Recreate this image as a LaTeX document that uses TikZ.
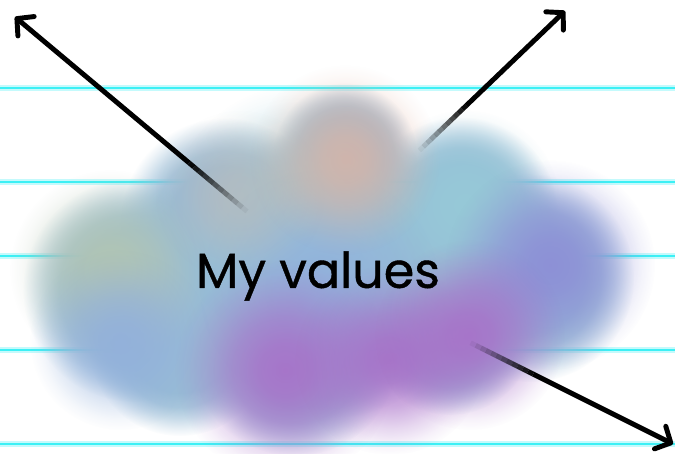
\documentclass[tikz,border=0pt]{standalone}
\usepackage{fontspec}
\setmainfont{Poppins}
\newfontfamily\valfont{Poppins}[FakeBold=0.8]
\usetikzlibrary{arrows.meta,calc,fadings}

% 云团的柔边（中心不透明，向外渐隐；25bp 对应圆周）
\pgfdeclareradialshading{blobshade}{\pgfpointorigin}{%
  color(0bp)=(pgftransparent!0); color(13bp)=(pgftransparent!0);
  color(17bp)=(pgftransparent!15); color(20bp)=(pgftransparent!45);
  color(23bp)=(pgftransparent!80); color(25bp)=(pgftransparent!100);
  color(50bp)=(pgftransparent!100)}
\pgfdeclarefading{softblob}{\pgfuseshading{blobshade}}
% 着色用的宽渐隐
\pgfdeclareradialshading{tintshade}{\pgfpointorigin}{%
  color(0bp)=(pgftransparent!0); color(6bp)=(pgftransparent!10);
  color(12bp)=(pgftransparent!35); color(18bp)=(pgftransparent!70);
  color(22bp)=(pgftransparent!90); color(25bp)=(pgftransparent!100);
  color(50bp)=(pgftransparent!100)}
\pgfdeclarefading{softtint}{\pgfuseshading{tintshade}}

\definecolor{rulecyan}{RGB}{60,240,245}
\definecolor{cloudbase}{RGB}{152,188,214}
\definecolor{peach}{RGB}{226,176,158}
\definecolor{teal}{RGB}{150,202,216}
\definecolor{sage}{RGB}{180,198,176}
\definecolor{skyblue}{RGB}{146,176,220}
\definecolor{lilac}{RGB}{140,140,214}
\definecolor{violet}{RGB}{168,110,200}

\tikzset{
  rule/.style={line width=1.8pt,draw=rulecyan},
  ruleglow/.style={line width=4pt,draw=rulecyan!30},
  blob/.style={fill=cloudbase,path fading=softblob},
  tint/.style={fill=#1,fill opacity=0.9,path fading=softtint},
  arrowline/.style={line width=3.5pt,draw=black},
  barb/.style={-{Straight Barb[length=8.5pt,width=18pt,round]}}
}

\begin{document}
\begin{tikzpicture}[x=0.025cm,y=-0.025cm]
\fill[white] (0,0) rectangle (675,453);
\useasboundingbox (0,0) rectangle (675,453);
% 横线
\foreach \ry in {88,182,256,350,444}{
  \draw[ruleglow] (0,\ry) -- (675,\ry);
  \draw[rule] (0,\ry) -- (675,\ry);
}
% 云团轮廓
\foreach \cx/\cy/\r in {330/272/146,135/290/112,180/345/91,225/222/104,
  460/215/98,530/278/104,295/352/104,450/330/85,345/155/72}{
  \fill[blob] (\cx,\cy) circle (\r);
}
% 云团着色
\fill[tint=teal] (300,215) circle (130);
\fill[tint=teal] (465,205) circle (95);
\fill[tint=sage] (110,270) circle (100);
\fill[tint=skyblue] (120,340) circle (90);
\fill[tint=skyblue] (320,290) circle (120);
\fill[tint=lilac] (550,265) circle (105);
\fill[tint=violet] (285,370) circle (110);
\fill[tint=violet] (390,360) circle (95);
\fill[tint=violet] (470,335) circle (95);
\fill[tint=peach,fill opacity=0.35] (240,195) circle (85);
\fill[tint=peach,fill opacity=0.75] (345,160) circle (95);
% 文字与端点
\node (lbl) at (318,276) {\valfont\fontsize{35}{40}\selectfont My values};
\coordinate (hub) at (305,260);
\coordinate (tipnw) at (15,17);
\coordinate (tipne) at (565,11);
\coordinate (tipse) at (673,444);
% 三支箭头（靠近中心处渐隐）
\foreach \tip/\fa/\fb in {tipnw/0.2/0.4,tipne/0.44/0.62,tipse/0.45/0.62}{
  \foreach \k in {0,...,11}{
    \pgfmathsetmacro\sa{\fa+(\fb-\fa)*\k/12}
    \pgfmathsetmacro\sb{\fa+(\fb-\fa)*(\k+1)/12}
    \pgfmathsetmacro\op{(\k+0.5)/12}
    \draw[arrowline,draw opacity=\op] ($(hub)!\sa!(\tip)$) -- ($(hub)!\sb!(\tip)$);
  }
  \draw[arrowline,barb] ($(hub)!\fb!(\tip)$) -- (\tip);
}
\end{tikzpicture}
\end{document}
